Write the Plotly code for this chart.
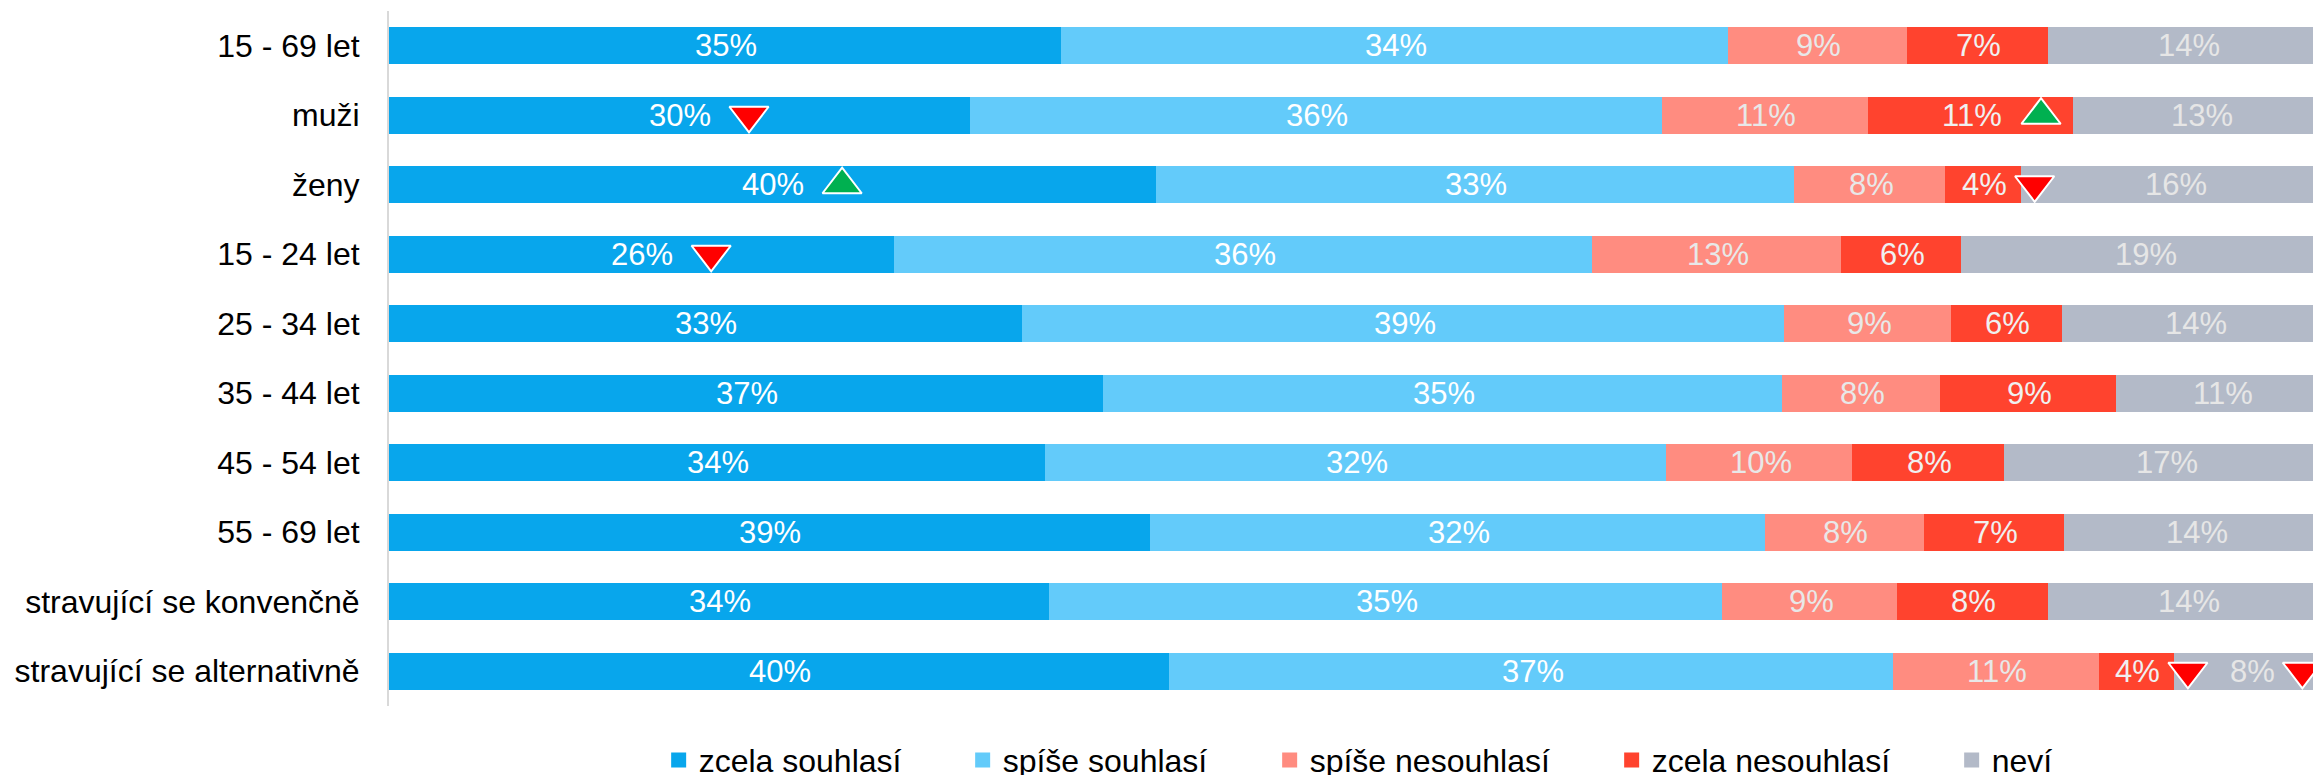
import plotly.graph_objects as go

# ---------------- data ----------------
categories = [
    "15 - 69 let", "muži", "ženy", "15 - 24 let", "25 - 34 let",
    "35 - 44 let", "45 - 54 let", "55 - 69 let",
    "stravující se konvenčně", "stravující se alternativně",
]
series_names = ["zcela souhlasí", "spíše souhlasí", "spíše nesouhlasí", "zcela nesouhlasí", "neví"]

zcela_souhlasi   = [34.7, 30.0, 39.6, 26.1, 32.7, 36.9, 33.9, 39.3, 34.1, 40.3]
spise_souhlasi   = [34.4, 35.7, 32.9, 36.0, 39.3, 35.0, 32.0, 31.7, 34.7, 37.3]
spise_nesouhlasi = [9.2, 10.6, 7.8, 12.8, 8.6, 8.1, 9.6, 8.2, 9.0, 10.6]
zcela_nesouhlasi = [7.3, 10.6, 3.9, 6.2, 5.7, 9.1, 7.8, 7.2, 7.8, 3.9]
nevi             = [14.4, 13.1, 15.8, 18.9, 13.7, 10.9, 16.7, 13.6, 14.4, 7.9]

# significance markers (category, series, direction)
sig_category  = ["muži", "muži", "ženy", "ženy", "15 - 24 let",
                 "stravující se alternativně", "stravující se alternativně"]
sig_series    = ["zcela souhlasí", "zcela nesouhlasí", "zcela souhlasí", "zcela nesouhlasí",
                 "zcela souhlasí", "zcela nesouhlasí", "neví"]
sig_direction = ["down", "up", "up", "down", "down", "down", "down"]

# ---------------- style ----------------
series_values = [zcela_souhlasi, spise_souhlasi, spise_nesouhlasi, zcela_nesouhlasi, nevi]
colors = ["#08A6EC", "#63CBFA", "#FF8C80", "#FF432E", "#B3BAC8"]
text_colors = ["#FFFFFF", "#FFFFFF", "#E8E8E8", "#F0F0F0", "#E6E6E6"]
legend_widths = [259, 262, 297, 295, 70]
FONT = "Liberation Sans, Arial, sans-serif"

# the page body adds an 8 px offset; margins are set so the plot lands where the reference has it
W, H = 2321, 775
M_L, M_R, M_T, M_B = 381, 0, 3, 77
X_MAX = 100.0
PX_PER_UNIT = (W - M_L - M_R) / X_MAX

fig = go.Figure()
for name, vals, col, lw in zip(series_names, series_values, colors, legend_widths):
    fig.add_trace(go.Bar(
        y=categories, x=vals, name=name, orientation="h",
        marker=dict(color=col, line=dict(width=3, color=col)),
        textposition="none", legendwidth=lw, hoverinfo="skip",
    ))

# segment value labels, centred on each segment
annotations = []
for i, cat in enumerate(categories):
    start = 0.0
    for j, vals in enumerate(series_values):
        v = vals[i]
        annotations.append(dict(
            x=start + v / 2, y=cat, xref="x", yref="y", text=f"{round(v)}%",
            showarrow=False, xanchor="center", yanchor="middle",
            font=dict(family=FONT, size=31, color=text_colors[j]),
        ))
        start += v

# significance triangles, positioned next to the segment labels
for direction, sym, fill in [("down", "triangle-down", "#FF0000"), ("up", "triangle-up", "#00B050")]:
    xs, ys = [], []
    for cat, ser, d in zip(sig_category, sig_series, sig_direction):
        if d != direction:
            continue
        i = categories.index(cat)
        j = series_names.index(ser)
        start = sum(series_values[k][i] for k in range(j))
        val = series_values[j][i]
        label = f"{round(val)}%"
        offset_px = 19 * len(label) + 12
        xs.append(start + val / 2 + offset_px / PX_PER_UNIT)
        ys.append(cat)
    fig.add_trace(go.Scatter(
        x=xs, y=ys, mode="markers", showlegend=False, hoverinfo="skip",
        marker=dict(symbol=sym, size=34, color=fill, line=dict(color="white", width=2)),
    ))

fig.update_layout(
    width=W, height=H,
    margin=dict(l=M_L, r=M_R, t=M_T, b=M_B, pad=0, autoexpand=False),
    barmode="stack", bargap=0.511,
    plot_bgcolor="white", paper_bgcolor="white",
    font=dict(family=FONT, color="black"),
    annotations=annotations,
    showlegend=True,
    legend=dict(
        orientation="h", x=0.139, xanchor="left", y=-0.078, yanchor="middle",
        font=dict(family=FONT, size=32, color="black"),
        traceorder="normal", bgcolor="rgba(0,0,0,0)", borderwidth=0,
    ),
)
fig.update_xaxes(range=[0, X_MAX], visible=False, showgrid=False, zeroline=False,
                 fixedrange=True, automargin=False)
fig.update_yaxes(
    type="category", categoryorder="array", categoryarray=categories,
    range=[len(categories) - 0.5, -0.5], autorange=False,
    showline=True, linecolor="#D9D9D9", linewidth=2, ticks="", showgrid=False, zeroline=False,
    automargin=False, ticklabelstandoff=21, tickfont=dict(family=FONT, size=32, color="black"),
)

fig.write_html("out.html")
